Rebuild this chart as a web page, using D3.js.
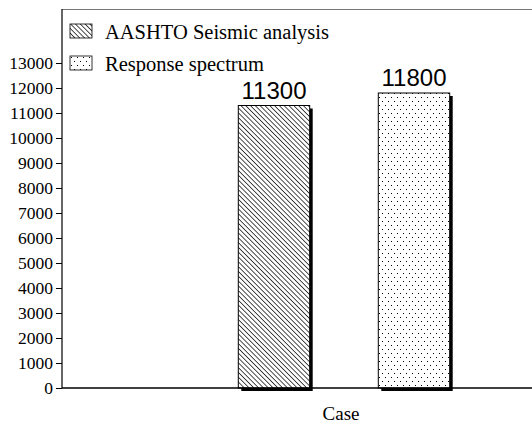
<!DOCTYPE html>
<html>
<head>
<meta charset="utf-8">
<script src="https://cdn.jsdelivr.net/npm/d3@7"></script>
</head>
<body style="margin:0">
<script>
var series = ["AASHTO Seismic analysis", "Response spectrum"];
var values = [11300, 11800];
var valueLabels = ["11300", "11800"];
var yTicks = d3.range(0, 14000, 1000);
var xTitle = "Case";

var serif = "'Liberation Serif'", sans = "'Liberation Sans'";
var width = 532, height = 428;
var margin = {top: 9, right: 0, bottom: 40, left: 62};

var svg = d3.select("body").append("svg")
    .attr("width", width)
    .attr("height", height);

var defs = svg.append("defs");

// diagonal hatch, top-left to bottom-right
var hatch = defs.append("pattern")
    .attr("id", "hatch")
    .attr("patternUnits", "userSpaceOnUse")
    .attr("width", 3.4)
    .attr("height", 3.4)
    .attr("patternTransform", "rotate(-45)");
hatch.append("rect").attr("width", 3.4).attr("height", 3.4).attr("fill", "#fff");
hatch.append("line")
    .attr("x1", 0).attr("y1", 0).attr("x2", 0).attr("y2", 3.4)
    .attr("stroke", "#000").attr("stroke-width", 1.4);

// sparse dots
var dots = defs.append("pattern")
    .attr("id", "dots")
    .attr("patternUnits", "userSpaceOnUse")
    .attr("width", 6)
    .attr("height", 8);
dots.append("rect").attr("width", 6).attr("height", 8).attr("fill", "#fff");
dots.append("rect").attr("x", 1).attr("y", 1).attr("width", 1).attr("height", 1).attr("fill", "#000");
dots.append("rect").attr("x", 4).attr("y", 5).attr("width", 1).attr("height", 1).attr("fill", "#000");

var fills = ["url(#hatch)", "url(#dots)"];

var y = d3.scaleLinear()
    .domain([0, 15160])
    .range([height - margin.bottom, margin.top]);

var x = d3.scaleBand()
    .domain(series)
    .range([204, 484])
    .paddingInner(0.49)
    .paddingOuter(0.245);

// frame top
svg.append("line")
    .attr("x1", margin.left).attr("x2", width)
    .attr("y1", margin.top + 0.5).attr("y2", margin.top + 0.5)
    .attr("stroke", "#777").attr("stroke-width", 1.2);

// bars with drop shadow
var bars = svg.append("g").selectAll("g")
    .data(series)
  .enter().append("g");

bars.append("rect")
    .attr("x", function(d) { return x(d) + 3; })
    .attr("y", function(d, i) { return y(values[i]) + 3; })
    .attr("width", x.bandwidth())
    .attr("height", function(d, i) { return y(0) - y(values[i]); })
    .attr("fill", "#000");

bars.append("rect")
    .attr("x", function(d) { return x(d); })
    .attr("y", function(d, i) { return y(values[i]); })
    .attr("width", x.bandwidth())
    .attr("height", function(d, i) { return y(0) - y(values[i]); })
    .attr("fill", function(d, i) { return fills[i]; })
    .attr("stroke", "#000")
    .attr("stroke-width", 1);

bars.append("text")
    .attr("x", function(d) { return x(d) + x.bandwidth() / 2; })
    .attr("y", function(d, i) { return y(values[i]) - 7; })
    .attr("text-anchor", "middle")
    .style("font-family", sans)
    .style("font-size", "24px")
    .text(function(d, i) { return valueLabels[i]; });

// y axis
var yAxis = svg.append("g")
    .attr("transform", "translate(" + margin.left + ",0)")
    .call(d3.axisLeft(y).tickValues(yTicks).tickSize(6).tickPadding(3).tickFormat(d3.format("d")));
yAxis.attr("font-family", null).attr("font-size", null);
yAxis.select(".domain").attr("d", "M0," + y(0) + "V" + margin.top).attr("stroke-width", 1.2);
yAxis.selectAll("text")
    .style("font-family", serif)
    .style("font-size", "17.5px")
    .attr("fill", "#000");

// x axis line
svg.append("line")
    .attr("x1", margin.left).attr("x2", width)
    .attr("y1", y(0)).attr("y2", y(0))
    .attr("stroke", "#000").attr("stroke-width", 1.5);

svg.append("text")
    .attr("x", 341)
    .attr("y", 420)
    .attr("text-anchor", "middle")
    .style("font-family", serif)
    .style("font-size", "19px")
    .text(xTitle);

// legend
var legend = svg.append("g").selectAll("g")
    .data(series)
  .enter().append("g")
    .attr("transform", function(d, i) { return "translate(70," + (24 + i * 32) + ")"; });

legend.append("rect")
    .attr("width", 22)
    .attr("height", 14)
    .attr("fill", function(d, i) { return fills[i]; })
    .attr("stroke", "#000")
    .attr("stroke-width", 0.8);

legend.append("text")
    .attr("x", 35)
    .attr("y", 15)
    .style("font-family", serif)
    .style("font-size", "20.5px")
    .text(function(d) { return d; });
</script>
</body>
</html>
